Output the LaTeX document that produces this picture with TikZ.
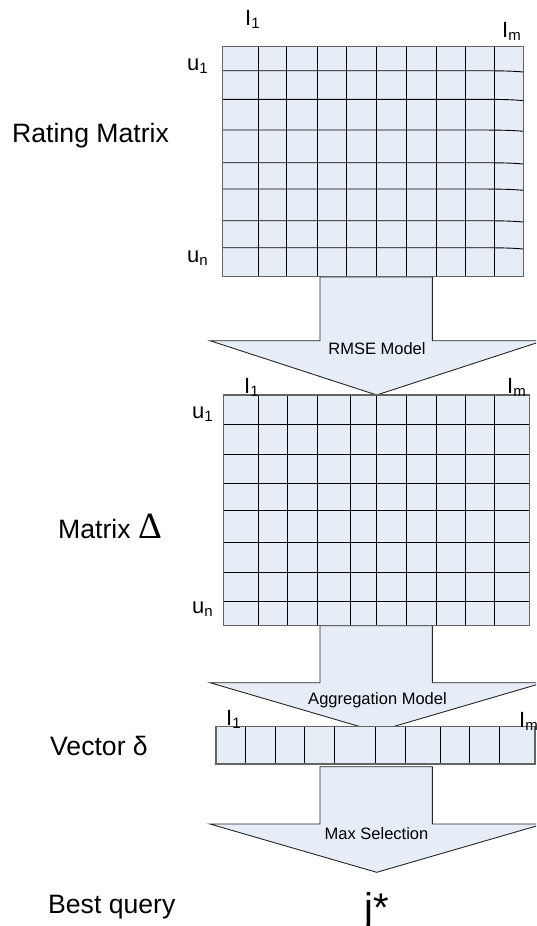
\documentclass[tikz,border=0pt]{standalone}
\usepackage{fontspec}
\setmainfont{Liberation Sans}
\newfontfamily\serifgreek{Liberation Serif}
\definecolor{cellfill}{RGB}{231,237,247}
\definecolor{edgegray}{RGB}{100,100,100}
\newcommand\sbs[1]{\raisebox{-0.16em}{\fontsize{15}{15}\selectfont #1}}
\tikzset{
  gridline/.style={draw=black,line width=0.9pt},
  outline/.style={draw=edgegray,line width=1.3pt},
  cellarea/.style={fill=cellfill},
  bigarrow/.style={fill=cellfill,draw=black!85,line width=0.9pt,line join=miter},
  lbl/.style={anchor=base west,inner sep=0pt,font=\fontsize{26.6}{30}\selectfont},
  idx/.style={anchor=base west,inner sep=0pt,font=\fontsize{22}{26}\selectfont},
  steplbl/.style={anchor=base,inner sep=0pt,font=\fontsize{16.5}{19}\selectfont}
}
\begin{document}
\begin{tikzpicture}[x=1pt,y=-1pt]
\useasboundingbox (0,0) rectangle (536,926);
\clip (0,0) rectangle (536,926);

% ---------- Arrow 1 (RMSE Model)
\draw[bigarrow] (320,277) -- (320,340.7) -- (210,340.7) -- (376.7,395) -- (543.3,340.7) -- (432.3,340.7) -- (432.3,277) -- cycle;
\node[steplbl] (rmse) at (377,354) {RMSE Model};

% ---------- Matrix 1 (Rating matrix)
\fill[cellarea] (222.7,46.7) rectangle (523.3,276.7);
\foreach \x in {258.3,286.7,317.3,346.7,376.7,406,436,465,494}
  \draw[gridline] (\x,46.7) -- (\x,276.7);
\foreach \y in {70.7,99.3,130,162.7,189,220.7,247.7}
  \draw[gridline] (222.7,\y) -- (470,\y) .. controls (500,\y) and (512,\y+0.2) .. (524,\y+1.4);
\draw[outline] (222.7,46.7) rectangle (523.3,276.7);

\node[idx] (a1) at (245,25) {I\sbs{1}};
\node[idx] (am) at (502,37) {I\sbs{m}};
\node[idx] (au1) at (187,70) {u\sbs{1}};
\node[idx] (aun) at (187,262) {u\sbs{n}};
\node[lbl] (rating) at (12,142) {Rating Matrix};

% ---------- Arrow 2 (Aggregation Model)
\draw[bigarrow] (320,625.7) -- (320,682.7) -- (210,682.7) -- (376.7,731.5) -- (543.3,682.7) -- (432.3,682.7) -- (432.3,625.7) -- cycle;
\node[steplbl] (aggr) at (377.5,704) {Aggregation Model};

% ---------- Matrix 2 (Delta)
\fill[cellarea] (223.3,395) rectangle (529.3,625.7);
\foreach \x in {258.3,287.3,317.3,350,376.7,406.7,436,465,494.3}
  \draw[gridline] (\x,395) -- (\x,625.7);
\foreach \y in {424.3,454,483.3,510,542.7,572.3,601.7}
  \draw[gridline] (223.3,\y) -- (529.3,\y);
\draw[outline] (223.3,395) rectangle (529.3,625.7);

\node[idx] (b1) at (244,393) {I\sbs{1}};
\node[idx] (bm) at (507,393) {I\sbs{m}};
\node[idx] (bu1) at (192,418) {u\sbs{1}};
\node[idx] (bun) at (192,613) {u\sbs{n}};
\node[lbl] (mdelta) at (58,538) {Matrix {\serifgreek\fontsize{37}{40}\selectfont Δ}};

% ---------- Arrow 3 (Max Selection)
\draw[bigarrow] (320,766.7) -- (320,824) -- (210,824) -- (376.7,872.3) -- (543.3,824) -- (432.3,824) -- (432.3,766.7) -- cycle;
\node[steplbl] (maxsel) at (376.5,839) {Max Selection};

% ---------- Vector delta
\fill[cellarea] (216,726.7) rectangle (535,764);
\foreach \x in {245.7,275.7,304.3,334,375,405,440,469.3,499.3}
  \draw[gridline] (\x,726.7) -- (\x,764);
\draw[outline] (216,726.7) rectangle (535,764);

\node[idx] (c1) at (226,725) {I\sbs{1}};
\node[idx] (cm) at (519,727) {I\sbs{m}};
\node[lbl] (vdelta) at (50,755) {Vector δ};

% ---------- Result
\node[lbl] (best) at (48,913) {Best query};
\node[anchor=base,inner sep=0pt,font=\fontsize{40}{44}\selectfont] (jstar) at (377,921) {j*};
\end{tikzpicture}
\end{document}
